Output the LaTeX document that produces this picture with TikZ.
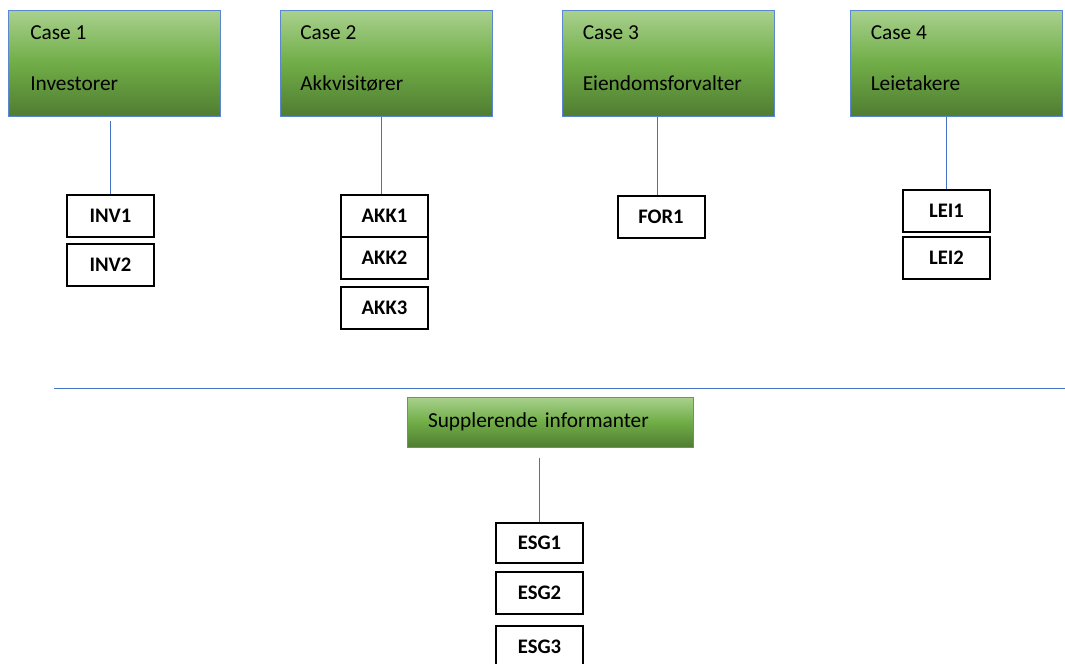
\documentclass[tikz,border=0pt]{standalone}
\usepackage{fontspec}
\setmainfont{Carlito}
\usetikzlibrary{positioning, calc}
\definecolor{caselight}{RGB}{169, 209, 142}
\definecolor{casemid}{RGB}{112, 173, 71}
\definecolor{casedark}{RGB}{80, 125, 50}
\definecolor{caseblue}{RGB}{91, 135, 205}
\definecolor{linkblue}{RGB}{68, 114, 196}

\begin{document}
\begin{tikzpicture}[x=0.75pt, y=-0.75pt,
        casebox/.style={rectangle, draw=caseblue, line width=0.75pt, top color=caselight, bottom color=casedark, middle color=casemid, minimum width=159pt, minimum height=79.5pt, inner sep=0pt},
        casetext/.style={anchor=base west, font=\fontsize{16}{19}\selectfont, inner sep=0pt},
        idbox/.style={rectangle, draw=black, line width=1.5pt, minimum width=65.25pt, minimum height=31.5pt, inner sep=0pt, font=\bfseries\fontsize{15.5}{18}\selectfont},
        link/.style={draw=linkblue, line width=0.75pt}]
        \useasboundingbox (0,0) rectangle (1065,664);

        % Case 1
        \node[casebox] (c1) at (114.5,63) {};
        \node[casetext] (c1a) at ($(c1.north west)+(22,30)$) {Case 1};
        \node[casetext] (c1b) at ($(c1.north west)+(22,81)$) {Investorer};
        \node[idbox] (inv1) at (110.5,216) {INV1};
        \node[idbox, below=3.75pt of inv1] (inv2) {INV2};
        \draw[link] ($(c1.south -| inv1.north)+(0,4)$) -- (inv1.north);

        % Case 2
        \node[casebox] (c2) at (386.5,63) {};
        \node[casetext] (c2a) at ($(c2.north west)+(20,30)$) {Case 2};
        \node[casetext] (c2b) at ($(c2.north west)+(20,81)$) {Akkvisitører};
        \node[idbox] (akk1) at (384.5,215.5) {AKK1};
        \node[idbox, below=-1.5pt of akk1] (akk2) {AKK2};
        \node[idbox, below=4.5pt of akk2] (akk3) {AKK3};
        \coordinate (akktop) at ([xshift=-2.6pt]akk1.north);
        \draw[link] (c2.south -| akktop) -- (akktop);

        % Case 3
        \node[casebox] (c3) at (668,63) {};
        \node[casetext] (c3a) at ($(c3.north west)+(21,30)$) {Case 3};
        \node[casetext] (c3b) at ($(c3.north west)+(21,81)$) {Eiendomsforvalter};
        \node[idbox] (for1) at (661,216.5) {FOR1};
        \coordinate (fortop) at ([xshift=-2.6pt]for1.north);
        \draw[link] (c3.south -| fortop) -- (fortop);

        % Case 4
        \node[casebox] (c4) at (956,63) {};
        \node[casetext] (c4a) at ($(c4.north west)+(21,30)$) {Case 4};
        \node[casetext] (c4b) at ($(c4.north west)+(21,81)$) {Leietakere};
        \node[idbox] (lei1) at (946.5,211) {LEI1};
        \node[idbox, below=2.25pt of lei1] (lei2) {LEI2};
        \draw[link] (c4.south -| lei1.north) -- (lei1.north);

        % Separator
        \coordinate (sepL) at (54,388);
        \coordinate (sepR) at (1065,388);
        \draw[link] (sepL) -- (sepR);

        % Supplerende informanter
        \node[casebox, minimum width=214.5pt, minimum height=37.5pt, text width=183pt, inner xsep=15.75pt, align=left, font=\fontsize{16}{19}\selectfont] (sup) at (550,422) {Supplerende informanter};
        \node[idbox, minimum height=30pt] (esg1) at (539.5,543) {ESG1};
        \node[idbox, below=5.25pt of esg1] (esg2) {ESG2};
        \node[idbox, below=7.5pt of esg2] (esg3) {ESG3};
        \draw[link] ($(sup.south -| esg1.north)+(0,10)$) -- (esg1.north);
    \end{tikzpicture}
\end{document}
